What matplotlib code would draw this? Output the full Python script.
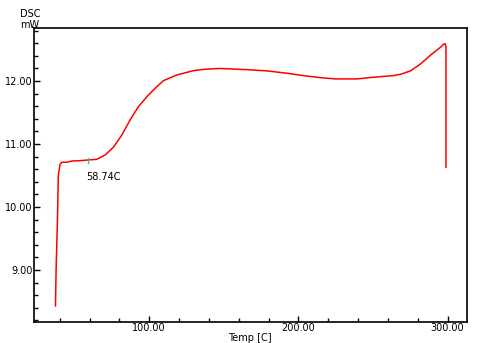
import numpy as np
import matplotlib
matplotlib.use("Agg")
import matplotlib.pyplot as plt
from matplotlib.ticker import MultipleLocator

# DSC curve
temp = [37.2, 37.6, 38.6, 39.1, 40.3, 41.6, 45.0, 48.3, 53.7, 64.9, 70.5, 76.0,
        81.7, 87.2, 92.8, 98.5, 104.0, 109.6, 118.6, 129.7, 137.6, 147.7,
        165.6, 179.0, 192.4, 203.4, 214.8, 224.8, 239.4, 250.3, 263.8, 268.5,
        275.2, 281.9, 288.6, 295.3, 297.5, 298.4, 298.9, 298.9]
dsc = [8.43, 9.0, 9.87, 10.51, 10.68, 10.71, 10.71, 10.73, 10.735, 10.757,
       10.825, 10.948, 11.143, 11.381, 11.592, 11.751, 11.884, 12.005, 12.095,
       12.163, 12.186, 12.198, 12.179, 12.159, 12.122, 12.084, 12.052, 12.032,
       12.032, 12.059, 12.084, 12.106, 12.16, 12.27, 12.41, 12.535, 12.587,
       12.587, 12.545, 10.63]

tg_temp = 58.74
tg_dsc = 10.745

fig = plt.figure(figsize=(4.95, 3.43), dpi=100)
ax = fig.add_axes([0.0687, 0.0612, 0.8747, 0.8572])
ax.plot(temp, dsc, color="red", lw=1.1)
ax.plot([tg_temp, tg_temp], [tg_dsc - 0.04, tg_dsc + 0.04], color="#33bbcc", lw=1)
ax.text(tg_temp - 1, 10.47, "58.74C", fontsize=7, ha="left", va="center")

ax.set_xlim(22.8, 313)
ax.set_ylim(8.175, 12.84)
ax.xaxis.set_minor_locator(MultipleLocator(20))
ax.yaxis.set_minor_locator(MultipleLocator(0.2))
ax.set_xticks([100, 200, 300])
ax.set_xticklabels(["100.00", "200.00", "300.00"])
ax.set_yticks([9, 10, 11, 12])
ax.set_yticklabels(["9.00", "10.00", "11.00", "12.00"])
ax.tick_params(which="both", direction="in", labelsize=7, pad=1)
ax.tick_params(which="major", length=4, width=1)
ax.tick_params(which="minor", length=3, width=1)
for s in ax.spines.values():
    s.set_linewidth(1.2)

fig.text(20 / 495, 1 - 14 / 343, "DSC", fontsize=7, va="center")
fig.text(20 / 495, 1 - 25 / 343, "mW", fontsize=7, va="center")
fig.text(250 / 495, 1 - 338 / 343, "Temp [C]", fontsize=7, ha="center", va="center")

fig.savefig("out.png", dpi=100)
